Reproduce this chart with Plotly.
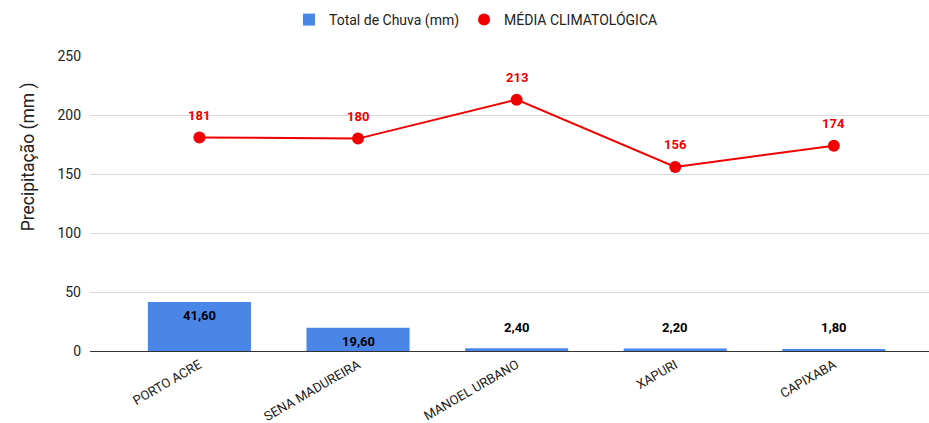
import plotly.graph_objects as go

categories = ["PORTO ACRE", "SENA MADUREIRA", "MANOEL URBANO", "XAPURI", "CAPIXABA"]
chuva = [41.6, 19.6, 2.4, 2.2, 1.8]
media = [181, 180, 213, 156, 174]
y_ticks = [0, 50, 100, 150, 200, 250]

blue = "#4a86e8"
red = "#f00000"
font = "Roboto"

fig = go.Figure()
fig.add_trace(go.Bar(x=categories, y=chuva, name="Total de Chuva (mm)",
                     marker=dict(color=blue, line=dict(width=0)), width=0.65))
fig.add_trace(go.Scatter(x=categories, y=media, mode="lines+markers", showlegend=False,
                         line=dict(color=red, width=2), marker=dict(color=red, size=12)))
fig.add_trace(go.Scatter(x=[None], y=[None], mode="markers", name="MÉDIA CLIMATOLÓGICA",
                         marker=dict(color=red, size=12)))

for c, v in zip(categories, chuva):
    inside = v > 10
    fig.add_annotation(x=c, y=v, text="<b>" + f"{v:.2f}".replace(".", ",") + "</b>",
                       showarrow=False, yshift=-14 if inside else 21,
                       font=dict(family=font, size=13, color="#000000"))
for c, v in zip(categories, media):
    fig.add_annotation(x=c, y=v, text=f"<b>{v}</b>", showarrow=False, yshift=22,
                       font=dict(family=font, size=13, color=red))

fig.add_annotation(xref="paper", yref="paper", x=-0.0739, y=0.66, xanchor="center", yanchor="middle",
                   text="Precipitação (mm )", textangle=-90, showarrow=False,
                   font=dict(family=font, size=17.5, color="#222222"))

fig.update_layout(
    width=929, height=423,
    margin=dict(l=90, r=0, t=56, b=72),
    plot_bgcolor="white", paper_bgcolor="white",
    font=dict(family=font, size=14, color="#222222"),
    legend=dict(orientation="h", x=476 / 929, xanchor="center", xref="container",
                y=1 - 20 / 423, yanchor="middle", yref="container",
                font=dict(size=14, color="#222222"),
                itemwidth=30, traceorder="normal"),
)
fig.update_xaxes(range=[-0.69, 4.6], tickangle=-30, showgrid=False, automargin=False,
                 tickfont=dict(family=font, size=13, color="#222222"), ticks="",
                 ticklabelstandoff=3)
fig.update_yaxes(range=[0, 250], tickvals=y_ticks, showgrid=True, gridcolor="#d9d9d9",
                 zeroline=True, zerolinecolor="#333333", zerolinewidth=1, automargin=False,
                 tickfont=dict(family=font, size=14, color="#222222"), ticks="",
                 ticklabelstandoff=8)

fig.write_html("out.html", config={"displayModeBar": False},
               post_script="document.body.style.margin='0px';document.body.style.overflow='hidden';")
